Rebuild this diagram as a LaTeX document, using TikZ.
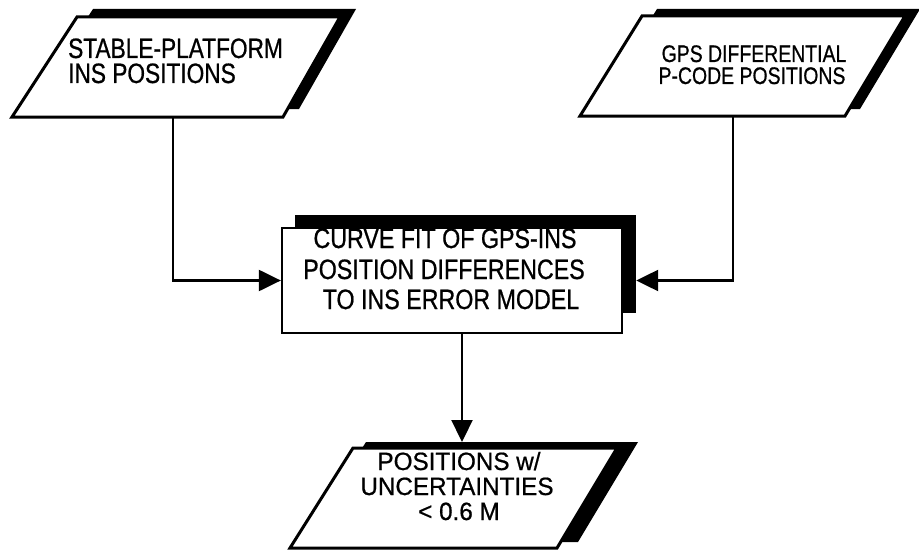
\documentclass[tikz,border=0pt]{standalone}
\usepackage{fontspec}
\setmainfont{Liberation Sans}
\newfontfamily\fbig{Liberation Sans}[FakeStretch=0.81, FakeBold=0.7]
\newfontfamily\fmid{Liberation Sans}[FakeStretch=0.83, FakeBold=0.7]
\newfontfamily\fsmall{Liberation Sans}[FakeStretch=0.81, FakeBold=0.7]
\newfontfamily\flow{Liberation Sans}[FakeStretch=0.97, FakeBold=0.7]
\usetikzlibrary{arrows.meta}
\begin{document}
\begin{tikzpicture}[x=1pt,y=-1pt,
  frontbox/.style={draw=black, fill=white, line width=3pt, line join=miter},
  shadowbox/.style={fill=black},
  conn/.style={draw=black, line width=2.3pt, -{Triangle[length=22pt,width=21pt]}},
  lbl/.style={inner sep=0pt, anchor=base},
  tlfont/.style={font=\fbig\fontsize{28pt}{30pt}\selectfont},
  trfont/.style={font=\fsmall\fontsize{24pt}{26pt}\selectfont},
  midfont/.style={font=\fmid\fontsize{28pt}{30pt}\selectfont},
  lowfont/.style={font=\flow\fontsize{25pt}{27pt}\selectfont}]
\useasboundingbox (0,0) rectangle (919,551);

% input: stable-platform INS positions
\fill[shadowbox] (93,9) -- (356,9) -- (299,109) -- (28,109) -- cycle;
\path[frontbox] (77,17) -- (340,17) -- (283,117) -- (12,117) -- cycle;
\node[lbl, tlfont, anchor=base west] (stab1) at (68,58) {STABLE-PLATFORM};
\node[lbl, tlfont, anchor=base west] (stab2) at (68,83) {INS POSITIONS};
\coordinate (stabout) at (173,117);

% input: GPS differential P-code positions
\fill[shadowbox] (657,9) -- (920,9) -- (860,109) -- (595,109) -- cycle;
\path[frontbox] (642,16) -- (905,16) -- (845,116) -- (580,116) -- cycle;
\node[lbl, trfont] (gps1) at (754,62) {GPS DIFFERENTIAL};
\node[lbl, trfont] (gps2) at (752,84) {P-CODE POSITIONS};
\coordinate (gpsout) at (733,116);

% process: curve fit
\node[shadowbox, inner sep=0pt, minimum width=341pt, minimum height=98pt] (fitshadow) at (465.5,264) {};
\node[draw=black, fill=white, line width=2.3pt, inner sep=0pt, minimum width=340pt, minimum height=105pt] (fit) at (452,280.5) {};
\node[lbl, midfont] (fit1) at (445,248) {CURVE FIT OF GPS-INS};
\node[lbl, midfont] (fit2) at (444,279) {POSITION DIFFERENCES};
\node[lbl, midfont] (fit3) at (451,309) {TO INS ERROR MODEL};

% output: positions with uncertainties
\fill[shadowbox] (366,442) -- (638,442) -- (578,542) -- (303,542) -- cycle;
\path[frontbox] (353,448) -- (617,448) -- (557,548) -- (290,548) -- cycle;
\node[lbl, lowfont] (pos1) at (459,470) {POSITIONS w/};
\node[lbl, lowfont] (pos2) at (457,495) {UNCERTAINTIES};
\node[lbl, lowfont] (pos3) at (459,520) {< 0.6 M};
\coordinate (posin) at (462,442);

% connectors
\draw[conn] (stabout) |- (fit.west);
\draw[conn] (gpsout) |- (fit.east -| fitshadow.east);
\draw[conn] (fit.south -| posin) -- (posin);
\end{tikzpicture}
\end{document}
